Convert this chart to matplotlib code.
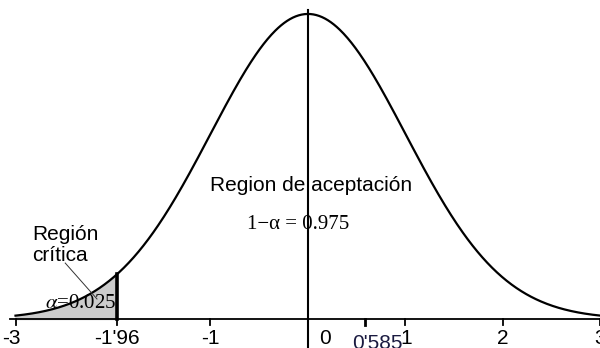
import numpy as np
import matplotlib
matplotlib.use('Agg')
import matplotlib.pyplot as plt

# normal distribution, two-sided alpha split, left tail shown
z_crit = -1.96
alpha_txt = r'$\alpha$=0.025'
conf_txt = '1\u2212\u03b1 = 0.975'
tick_pos = [-3, -1.96, -1, 0, 0.585, 1, 2, 3]
tick_lab = ['-3', "-1'96", '-1', '0', "0'585", '1', '2', '3']

x = np.linspace(-3, 3, 600)
pdf = np.exp(-x**2 / 2) / np.sqrt(2 * np.pi)

fig = plt.figure(figsize=(6, 3.48), dpi=100)
ax = fig.add_axes([0, 0, 1, 1])
ax.set_xlim(-3.159, 2.995)
ax.set_ylim(-0.0379, 0.4172)
ax.axis('off')

ax.plot(x, pdf, color='black', lw=1.6)
# x axis line
ax.plot([-3.06, 3.0], [0, 0], color='black', lw=1.3)
# tail shading
m = x <= z_crit
ax.fill_between(x[m], 0, pdf[m], color='#cccccc')
ax.plot([z_crit, z_crit], [0, np.exp(-z_crit**2 / 2) / np.sqrt(2 * np.pi)], color='black', lw=2.6)
# centre line
ax.plot([0, 0], [-0.0379, 0.4042], color='black', lw=1.5)

fs = 15
ty = -0.0255
# ticks below the axis
for p, lab in zip(tick_pos, tick_lab):
    ax.plot([p, p], [0, -0.008], color='black', lw=2 if p == 0.585 else 1.3)
    if lab == '0':
        ax.text(0.17, ty, lab, ha='center', va='center', fontsize=fs, family='Liberation Sans')
    elif lab == "0'585":
        ax.text(0.71, -0.0315, lab, ha='center', va='center', fontsize=fs, family='Liberation Sans', color='#1a1a40')
    elif lab == '1':
        ax.text(1.01, ty, lab, ha='center', va='center', fontsize=fs, family='Liberation Sans')
    elif lab == '-3':
        ax.text(-3.04, ty, lab, ha='center', va='center', fontsize=fs, family='Liberation Sans')
    else:
        ax.text(p, ty, lab, ha='center', va='center', fontsize=fs, family='Liberation Sans')

ax.text(-1.005, 0.175, 'Region de aceptación', ha='left', va='center', fontsize=fs, family='Liberation Sans')
ax.text(-0.626, 0.123, conf_txt, ha='left', va='center', fontsize=fs, family='Liberation Serif')
ax.text(-2.83, 0.097, 'Región\ncrítica', ha='left', va='center', fontsize=fs, family='Liberation Sans', linespacing=1.1)
ax.plot([-2.49, -2.164], [0.0732, 0.0262], color='#333333', lw=0.7)
ax.text(-2.70, 0.0205, alpha_txt, ha='left', va='center', fontsize=fs, family='Liberation Serif',
        math_fontfamily='stix')

fig.savefig('out.png', dpi=100)
